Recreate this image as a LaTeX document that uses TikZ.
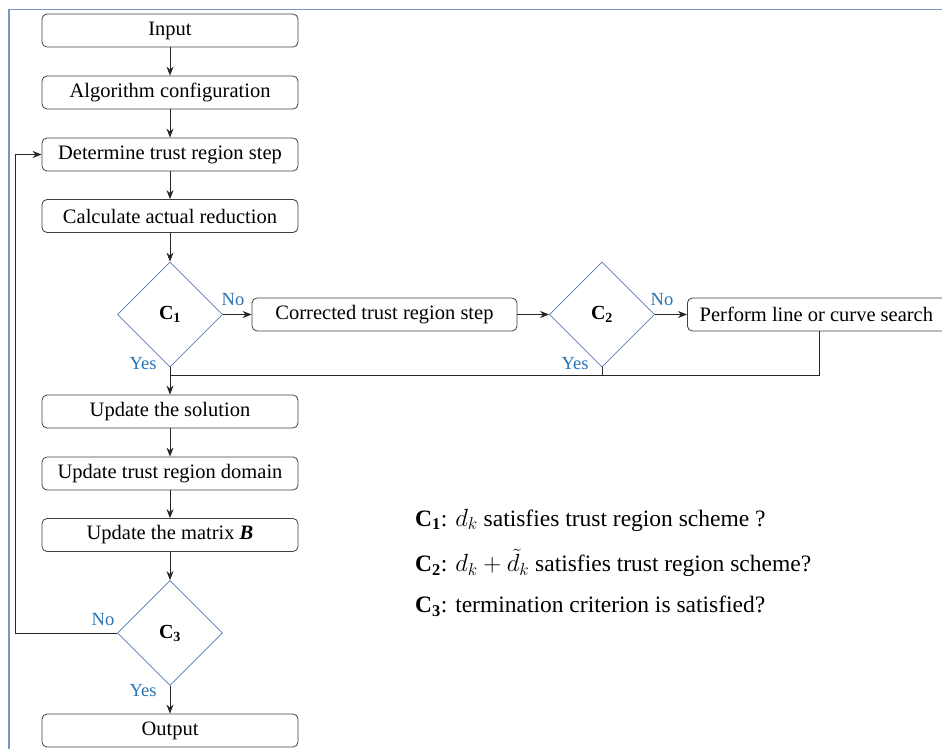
\documentclass[tikz,border=0pt]{standalone}
\usepackage{fontspec}
\setmainfont{Liberation Serif}
\usetikzlibrary{arrows.meta,shapes.geometric}
\definecolor{frameblue}{RGB}{120,150,195}
\definecolor{diamblue}{RGB}{85,120,180}
\definecolor{labblue}{RGB}{40,115,180}
\tikzset{
  procbox/.style={draw=black!75, line width=0.8pt, rounded corners=5pt, minimum width=256pt, minimum height=33pt, inner sep=0pt, font=\fontsize{20.5}{22}\selectfont, fill=white},
  sidebox/.style={draw=black!75, line width=0.8pt, rounded corners=5pt, minimum height=33pt, inner sep=0pt, font=\fontsize{20.5}{22}\selectfont, fill=white},
  decision/.style={diamond, draw=diamblue, line width=0.8pt, minimum width=105pt, minimum height=105pt, inner sep=0pt, aspect=1, font=\fontsize{20}{22}\selectfont\bfseries},
  conn/.style={draw=black!85, line width=0.9pt},
  arr/.style={conn, -{Stealth[length=9pt,width=7pt]}},
  lab/.style={text=labblue, font=\fontsize{18.5}{20}\selectfont, inner sep=0pt},
  legend/.style={anchor=west, inner sep=0pt, font=\fontsize{23.5}{25}\selectfont}
}
\begin{document}
\begin{tikzpicture}[x=1pt,y=-1pt]
\useasboundingbox (0,0) rectangle (942,749);
% frame
\draw[frameblue, line width=1.2pt] (9,749) -- (9,9.5) -- (942,9.5);
% main column
\node[procbox] (in) at (170,30.5) {Input};
\node[procbox] (cfg) at (170,92.5) {Algorithm configuration};
\node[procbox] (det) at (170,154.5) {Determine trust region step};
\node[procbox] (calc) at (170,216) {Calculate actual reduction};
\node[decision] (c1) at (170,314.5) {C$_{\mathbf{1}}$};
\node[sidebox, minimum width=265pt] (corr) at (384.5,314.5) {Corrected trust region step};
\node[decision] (c2) at (602,314.5) {C$_{\mathbf{2}}$};
\node[sidebox, minimum width=262pt, anchor=west] (perf) at (687,314.5) {\hspace*{-4pt}Perform line or curve search};
\node[procbox] (upd) at (170,411.5) {Update the solution};
\node[procbox] (utr) at (170,473.5) {Update trust region domain};
\node[procbox] (ub) at (170,535) {Update the matrix \textbf{\textit{B}}};
\node[decision] (c3) at (170,633) {C$_{\mathbf{3}}$};
\node[procbox] (out) at (170,730.5) {Output};
% coordinates
\coordinate (j1) at (170,375);
\coordinate (j2) at (602,375);
\coordinate (j3) at (819,375);
\coordinate (pb) at (819,331);
\coordinate (f1) at (15,633);
\coordinate (f2) at (15,154.5);
% connectors
\draw[arr] (in) -- (cfg);
\draw[arr] (cfg) -- (det);
\draw[arr] (det) -- (calc);
\draw[arr] (calc) -- (c1);
\draw[arr] (c1) -- (corr);
\draw[arr] (corr) -- (c2);
\draw[arr] (c2) -- (perf.west);
\draw[arr] (c1.south) -- (upd);
\draw[conn] (c2.south) -- (j2);
\draw[conn] (pb) -- (j3) -- (j1);
\draw[arr] (upd) -- (utr);
\draw[arr] (utr) -- (ub);
\draw[arr] (ub) -- (c3);
\draw[arr] (c3) -- (out);
\draw[arr] (c3.west) -- (f1) -- (f2) -- (det.west);
% labels
\node[lab] (n1) at (233,300) {No};
\node[lab] (y1) at (143,364) {Yes};
\node[lab] (n2) at (662,300) {No};
\node[lab] (y2) at (575,364) {Yes};
\node[lab] (n3) at (103,620) {No};
\node[lab] (y3) at (143,691) {Yes};
% legend
\node[legend] (l1) at (415,520) {\textbf{C$_{\mathbf{1}}$}: $d_k$ satisfies trust region scheme ?};
\node[legend] (l2) at (415,563) {\textbf{C$_{\mathbf{2}}$}: $d_k+\tilde{d}_k$ satisfies trust region scheme?};
\node[legend] (l3) at (415,606) {\textbf{C$_{\mathbf{3}}$}: termination criterion is satisfied?};
\end{tikzpicture}
\end{document}
